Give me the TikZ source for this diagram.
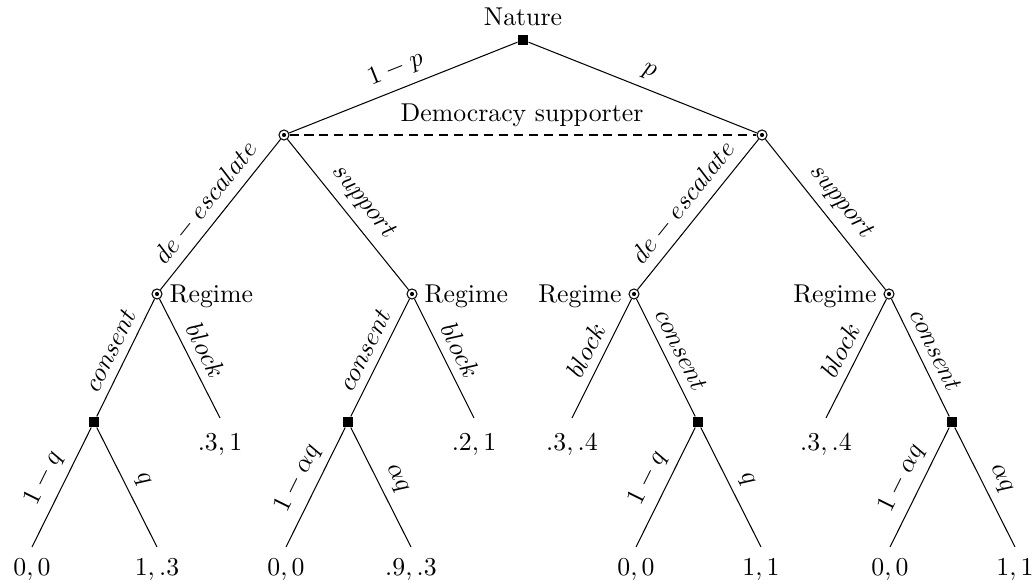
\documentclass[tikz,border=0pt]{standalone}
\begin{document}
\begin{tikzpicture}[x=0.388pt,y=-0.388pt,
  chance/.style={rectangle,fill=black,inner sep=0pt,minimum size=3.9pt},
  decnode/.style={circle,draw,fill=white,inner sep=0pt,minimum size=3.9pt,line width=0.4pt,
    path picture={\fill[black] (path picture bounding box.center) circle (0.8pt);}},
  lab/.style={midway,sloped,above,font=\normalsize},
  payoff/.style={anchor=north,inner sep=0pt},
  info/.style={dash pattern=on 3.5pt off 2.3pt}]
\useasboundingbox (0,0) rectangle (1035,585);
% nodes
\node[chance] (N) at (523,40) {};
\node[decnode] (D1) at (284,135) {};
\node[decnode] (D2) at (762,135) {};
\node[decnode] (R1) at (157,294) {};
\node[decnode] (R2) at (412,294) {};
\node[decnode] (R3) at (634,294) {};
\node[decnode] (R4) at (889,294) {};
\node[chance] (C1) at (94,422) {};
\node[chance] (C2) at (348,422) {};
\node[chance] (C3) at (698,422) {};
\node[chance] (C4) at (952,422) {};
\coordinate (B1) at (220,418);
\coordinate (B2) at (474,418);
\coordinate (B3) at (572,418);
\coordinate (B4) at (826,418);
\coordinate (L1) at (32,547);
\coordinate (L2) at (157,547);
\coordinate (L3) at (286,547);
\coordinate (L4) at (411,547);
\coordinate (L5) at (636,547);
\coordinate (L6) at (761,547);
\coordinate (L7) at (890,547);
\coordinate (L8) at (1015,547);
% player labels
\node[anchor=base,inner sep=0pt] (tN) at (523,26) {Nature};
\node[anchor=base,inner sep=0pt] (tD) at (522,122) {Democracy supporter};
\node[anchor=base west,inner sep=0pt] (tR1) at ([xshift=4.7pt,yshift=-3.4pt]R1.center) {Regime};
\node[anchor=base west,inner sep=0pt] (tR2) at ([xshift=4.7pt,yshift=-3.4pt]R2.center) {Regime};
\node[anchor=base east,inner sep=0pt] (tR3) at ([xshift=-4.6pt,yshift=-3.4pt]R3.center) {Regime};
\node[anchor=base east,inner sep=0pt] (tR4) at ([xshift=-4.6pt,yshift=-3.4pt]R4.center) {Regime};
% edges
\draw (N) -- node[lab] {$1-p$} (D1);
\draw (N) -- node[lab] {$p$} (D2);
\draw[info] (D1) -- (D2);
\draw (D1) -- node[lab] {$de-escalate$} (R1);
\draw (D1) -- node[lab] {$support$} (R2);
\draw (D2) -- node[lab] {$de-escalate$} (R3);
\draw (D2) -- node[lab] {$support$} (R4);
\draw (R1) -- node[lab] {$consent$} (C1);
\draw (R1) -- node[lab] {$block$} (B1);
\draw (R2) -- node[lab] {$consent$} (C2);
\draw (R2) -- node[lab] {$block$} (B2);
\draw (R3) -- node[lab] {$block$} (B3);
\draw (R3) -- node[lab] {$consent$} (C3);
\draw (R4) -- node[lab] {$block$} (B4);
\draw (R4) -- node[lab] {$consent$} (C4);
\draw (C1) -- node[lab] {$1-q$} (L1);
\draw (C1) -- node[lab] {$q$} (L2);
\draw (C2) -- node[lab] {$1-\alpha q$} (L3);
\draw (C2) -- node[lab] {$\alpha q$} (L4);
\draw (C3) -- node[lab] {$1-q$} (L5);
\draw (C3) -- node[lab] {$q$} (L6);
\draw (C4) -- node[lab] {$1-\alpha q$} (L7);
\draw (C4) -- node[lab] {$\alpha q$} (L8);
% payoffs
\node[payoff] (pB1) at ([yshift=-5.8pt]B1) {$.3,1$};
\node[payoff] (pB2) at ([yshift=-5.8pt]B2) {$.2,1$};
\node[payoff] (pB3) at ([yshift=-5.8pt]B3) {$.3,.4$};
\node[payoff] (pB4) at ([yshift=-5.8pt]B4) {$.3,.4$};
\node[payoff] (pL1) at ([yshift=-4.3pt]L1) {$0,0$};
\node[payoff] (pL2) at ([yshift=-4.3pt]L2) {$1,.3$};
\node[payoff] (pL3) at ([yshift=-4.3pt]L3) {$0,0$};
\node[payoff] (pL4) at ([yshift=-4.3pt]L4) {$.9,.3$};
\node[payoff] (pL5) at ([yshift=-4.3pt]L5) {$0,0$};
\node[payoff] (pL6) at ([yshift=-4.3pt]L6) {$1,1$};
\node[payoff] (pL7) at ([yshift=-4.3pt]L7) {$0,0$};
\node[payoff] (pL8) at ([yshift=-4.3pt]L8) {$1,1$};
\end{tikzpicture}
\end{document}
